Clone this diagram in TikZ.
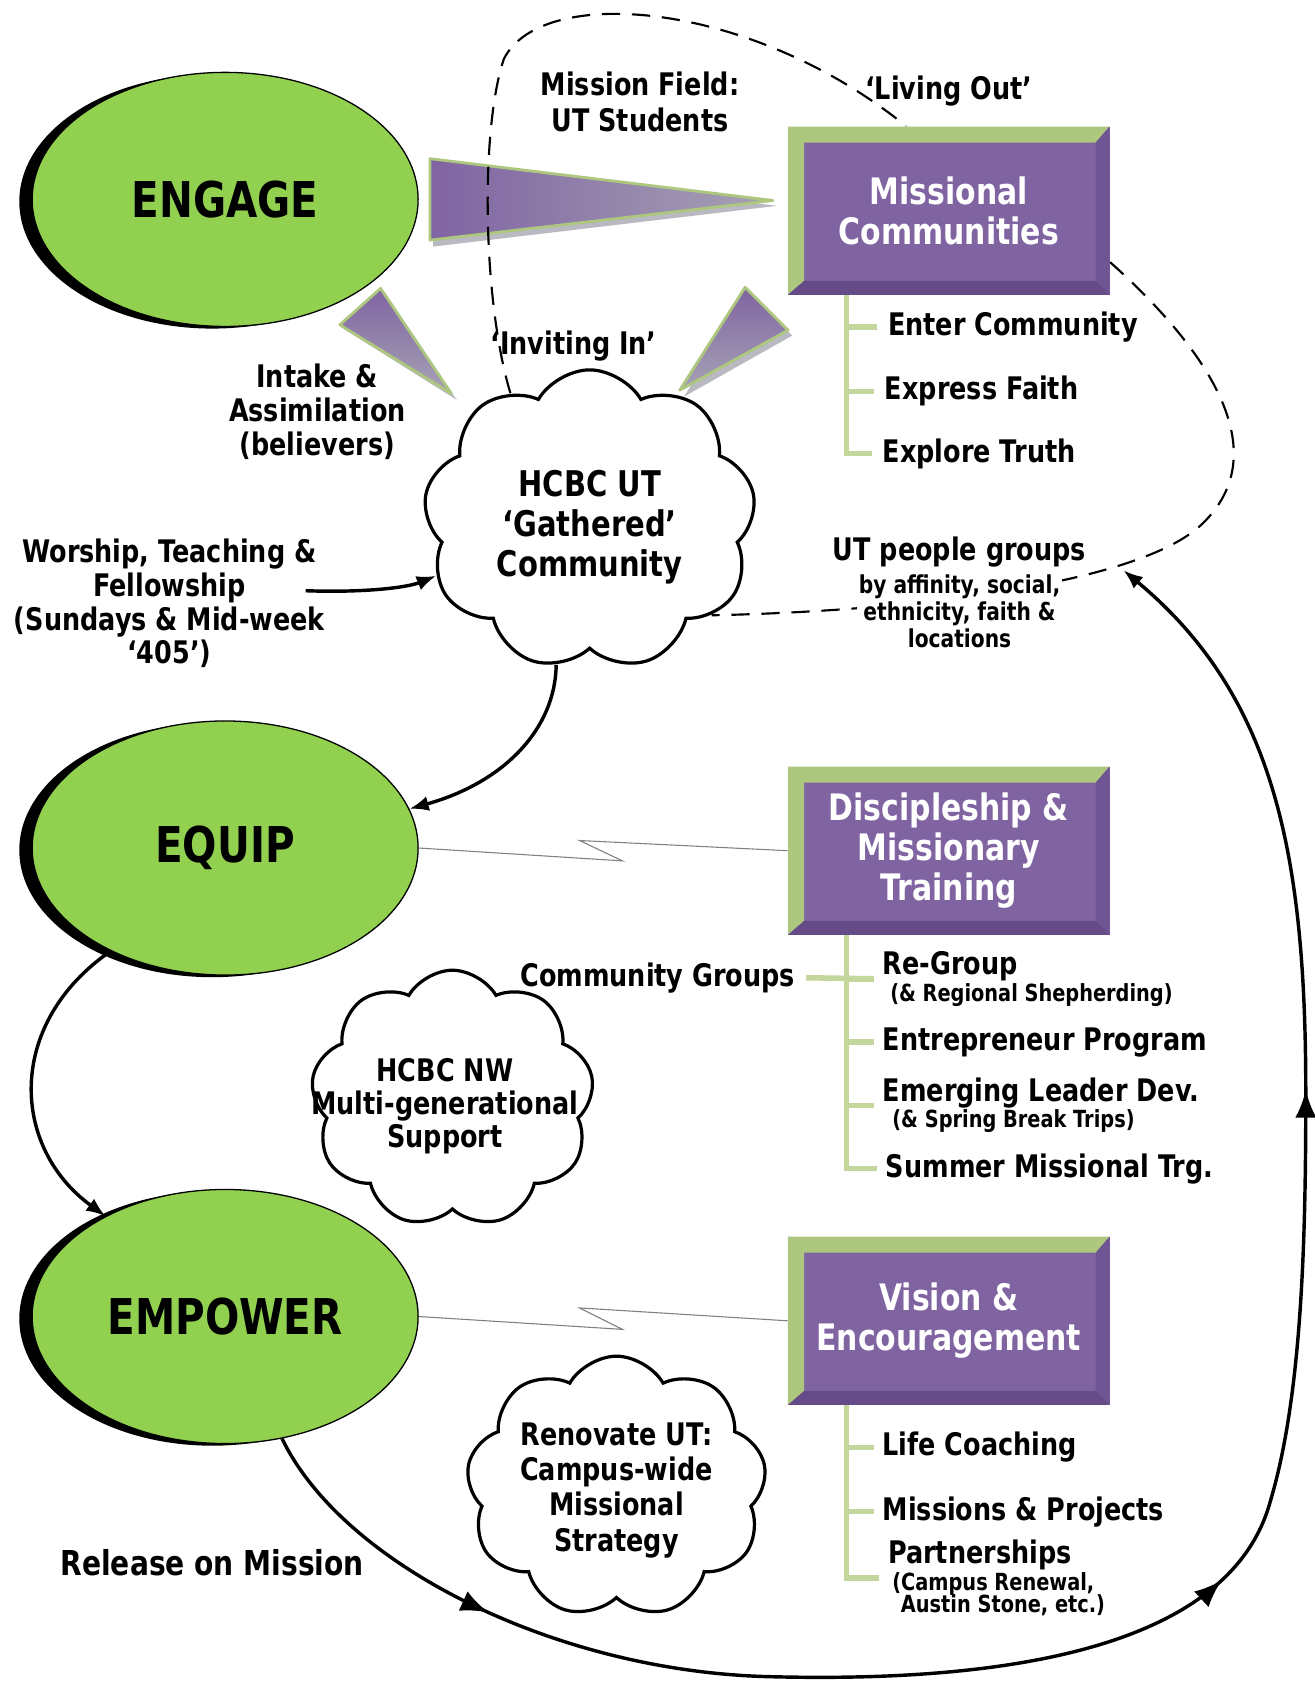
\documentclass[tikz,border=0pt]{standalone}
\usepackage{fontspec}
\setmainfont{DejaVu Sans}[FakeStretch=0.82]
\usetikzlibrary{shapes.geometric,shapes.symbols,shadows,arrows.meta,decorations.markings,backgrounds}

\definecolor{stagegreen}{HTML}{92D050}
\definecolor{boxpurple}{HTML}{8064A2}
\definecolor{bevelgreen}{HTML}{ADC77F}
\definecolor{bevelshade}{HTML}{654B88}
\definecolor{bevelside}{HTML}{6F5594}
\definecolor{stemgreen}{HTML}{C3D69B}
\definecolor{beamgray}{HTML}{A6A2B4}
\definecolor{beamshadow}{HTML}{B9B9C1}

\newcommand\smallnote{\fontsize{11}{12}\selectfont}

\tikzset{
  stage/.style={ellipse, draw=black, line width=0.6pt, fill=stagegreen,
    minimum width=180pt, minimum height=118.5pt,
    font=\fontsize{23}{26}\selectfont\bfseries,
    general shadow={fill=black, shadow xshift=-6pt, shadow yshift=-1pt}},
  bevelbox/.style={rectangle, fill=boxpurple, text=white, align=center,
    minimum width=150pt, minimum height=78.5pt, inner sep=0pt,
    font=\fontsize{17}{18.75}\selectfont\bfseries,
    path picture={
      % light edge along the top and the left
      \fill[bevelgreen] (path picture bounding box.north west)
        -- (path picture bounding box.north east) -- ++(-6.5pt,-7.5pt)
        -- ([shift={(7.5pt,-7.5pt)}]path picture bounding box.north west)
        -- ([shift={(7.5pt,6.5pt)}]path picture bounding box.south west)
        -- (path picture bounding box.south west) -- cycle;
      % dark edge on the right
      \fill[bevelside] (path picture bounding box.north east)
        -- (path picture bounding box.south east) -- ++(-6.5pt,6.5pt)
        -- ([shift={(-6.5pt,-7.5pt)}]path picture bounding box.north east) -- cycle;
      % dark edge at the bottom
      \fill[bevelshade] (path picture bounding box.south west)
        -- (path picture bounding box.south east) -- ++(-6.5pt,6.5pt)
        -- ([shift={(7.5pt,6.5pt)}]path picture bounding box.south west) -- cycle;
    }},
  cloudy/.style={cloud, cloud puffs=9, cloud puff arc=120, cloud ignores aspect,
    draw=black, line width=1.5pt, fill=white, inner sep=0pt},
  lbl/.style={align=center, inner sep=0pt, font=\fontsize{14.5}{15.75}\selectfont\bfseries},
  sublbl/.style={align=center, inner sep=0pt, font=\fontsize{11.5}{12.5}\selectfont\bfseries},
  item/.style={anchor=west, align=left, inner sep=0pt, font=\fontsize{14.5}{12.5}\selectfont\bfseries},
  stem/.style={draw=stemgreen, line width=2.6pt},
  bolt/.style={draw=gray, line width=0.5pt},
  flow/.style={line width=1.6pt, -{Latex[length=9pt,width=7pt]}},
  field/.style={line width=1pt, dash pattern=on 8.5pt off 5.5pt},
  beam/.style={top color=boxpurple, bottom color=beamgray, draw=bevelgreen,
    line width=1.3pt, line join=round},
}

\begin{document}
\begin{tikzpicture}[x=0.5pt, y=-0.5pt]
  \useasboundingbox (0,0) rectangle (1226,1568);

  % The three stages down the left
  \node[stage] (engage) at (210,186) {ENGAGE};
  \node[stage] (equip) at (210,791) {EQUIP};
  \node[stage] (empower) at (210,1228) {EMPOWER};

  % Bevelled boxes on the right
  \node[bevelbox] (missional) at (885,196.5) {Missional\\Communities};
  \node[bevelbox] (training) at (885,793.5) {Discipleship \&\\Missionary\\Training};
  \node[bevelbox] (vision) at (885,1232) {Vision \&\\Encouragement};

  % Clouds, with their text on top
  \node[cloudy, minimum width=155pt, minimum height=140pt] (gathered) at (550,485) {};
  \node[cloudy, minimum width=132pt, minimum height=120pt] (nwcloud) at (422,1025) {};
  \node[cloudy, minimum width=140pt, minimum height=122pt] (renovate) at (575,1387) {};
  \node[lbl, font=\fontsize{16.5}{18.75}\selectfont\bfseries] (gatheredtxt) at (550,492)
    {HCBC UT\\`Gathered'\\Community};
  \node[lbl, font=\fontsize{14.5}{15.5}\selectfont\bfseries] (nwtxt) at (415,1032)
    {HCBC NW\\Multi-generational\\Support};
  \node[lbl, font=\fontsize{14.5}{16.5}\selectfont\bfseries] (renovatetxt) at (575,1390)
    {Renovate UT:\\Campus-wide\\Missional\\Strategy};

  % Free labels
  \node[lbl, font=\fontsize{14.5}{17}\selectfont\bfseries] (field) at (597,95) {Mission Field:\\UT Students};
  \node[lbl] (livingout) at (885,85) {`Living Out'};
  \node[lbl] (invitingin) at (535,323) {`Inviting In'};
  \node[lbl] (intake) at (296,384) {Intake \&\\Assimilation\\(believers)};
  \node[lbl] (worship) at (158,563) {Worship, Teaching \&\\Fellowship\\(Sundays \& Mid-week\\`405')};
  \node[lbl, font=\fontsize{16}{17}\selectfont\bfseries] (release) at (198,1458) {Release on Mission};
  \node[lbl, fill=white, inner sep=1pt] (groups) at (895,515) {UT people groups};
  \node[sublbl, fill=white, inner sep=1pt] (groupsby) at (895,570) {by affinity, social,\\ethnicity, faith \&\\locations};
  \node[lbl, anchor=east] (commgroups) at (742,912) {Community Groups};

  % Items hanging from each box
  \node[item] (enter) at (828,305) {Enter Community};
  \node[item] (express) at (825,365) {Express Faith};
  \node[item] (explore) at (823,423) {Explore Truth};

  \node[item] (regroup) at (823,913) {Re-Group\\\smallnote\kern3.5pt(\& Regional Shepherding)};
  \node[item] (entrepreneur) at (823,972) {Entrepreneur Program};
  \node[item] (emerging) at (823,1031) {Emerging Leader Dev.\\\smallnote\kern4.5pt(\& Spring Break Trips)};
  \node[item] (summer) at (826,1090) {Summer Missional Trg.};

  \node[item] (coaching) at (823,1350) {Life Coaching};
  \node[item] (projects) at (823,1410) {Missions \& Projects};
  \node[item] (partners) at (828,1472) {Partnerships\\\smallnote\kern2pt(Campus Renewal,\\[-2pt]\smallnote\kern6pt Austin Stone, etc.)};

  % Green stems under the boxes
  \foreach \leaf in {enter,express,explore}
    \draw[stem] ([xshift=27.5pt]missional.south west) |- ([xshift=-5pt]\leaf.west);
  \foreach \leaf in {regroup,entrepreneur,emerging,summer}
    \draw[stem] ([xshift=27.5pt]training.south west) |- ([xshift=-4pt]\leaf.west);
  \foreach \leaf in {coaching,projects,partners}
    \draw[stem] ([xshift=27.5pt]vision.south west) |- ([xshift=-4pt]\leaf.west);
  \draw[stem] ([xshift=5pt]commgroups.east) -- ([xshift=-4pt]regroup.west);

  % Thin broken links from the stages to their boxes
  \draw[bolt] (equip.east) -- ++(95pt,-6pt) -- ++(-20pt,9.5pt) -- (training.west);
  \draw[bolt] (empower.east) -- ++(95pt,-6pt) -- ++(-20pt,10pt) -- (vision.west);

  % Arrows between the stages
  \coordinate (worshipend) at (285,551);
  \coordinate (groupsin) at (1048,532);
  \draw[flow] (worshipend) .. controls (340,553) and (380,548) .. (gathered.200);
  \draw[flow] (gathered.-103) .. controls (518,680) and (470,730) .. (equip.12);
  \draw[flow] (equip.222) .. controls (5,955) and (10,1070) .. (empower.140);

  % Release on mission, back round to the people groups
  \draw[flow, postaction={decorate}, decoration={markings,
      mark=at position 0.13 with {\arrow{Latex[length=13pt,width=10pt]}},
      mark=at position 0.49 with {\arrow{Latex[length=13pt,width=10pt]}},
      mark=at position 0.73 with {\arrow{Latex[length=13pt,width=10pt]}}}]
    (empower.-65) .. controls (320,1460) and (520,1560) .. (720,1564)
    .. controls (960,1570) and (1150,1530) .. (1185,1400)
    .. controls (1215,1300) and (1218,1150) .. (1218,1020)
    .. controls (1218,800) and (1190,650) .. (groupsin);

  \begin{scope}[on background layer]
    % Beams out of ENGAGE
    \fill[beamshadow] (404,153) -- (725,192) -- (404,230) -- cycle;
    \path[beam, left color=boxpurple, right color=beamgray] (401,148) -- (721,187) -- (401,224) -- cycle;
    \fill[beamshadow] (359,273) -- (321,307) -- (426,373) -- cycle;
    \path[beam] (355,269) -- (317,303) -- (421,367) -- cycle;
    \fill[beamshadow] (699,273) -- (739,313) -- (638,370) -- cycle;
    \path[beam] (695,268) -- (735,308) -- (634,364) -- cycle;

    % Dashed mission field loop
    \draw[field] (gathered.122) .. controls (450,280) and (448,120) .. (470,55)
      .. controls (505,-15) and (700,0) .. ([xshift=-20pt]missional.north);
    \draw[field] ([yshift=-24pt]missional.east) .. controls (1120,320) and (1195,420) .. (1120,490)
      .. controls (1060,545) and (850,570) .. (gathered.-38);
  \end{scope}
\end{tikzpicture}
\end{document}
